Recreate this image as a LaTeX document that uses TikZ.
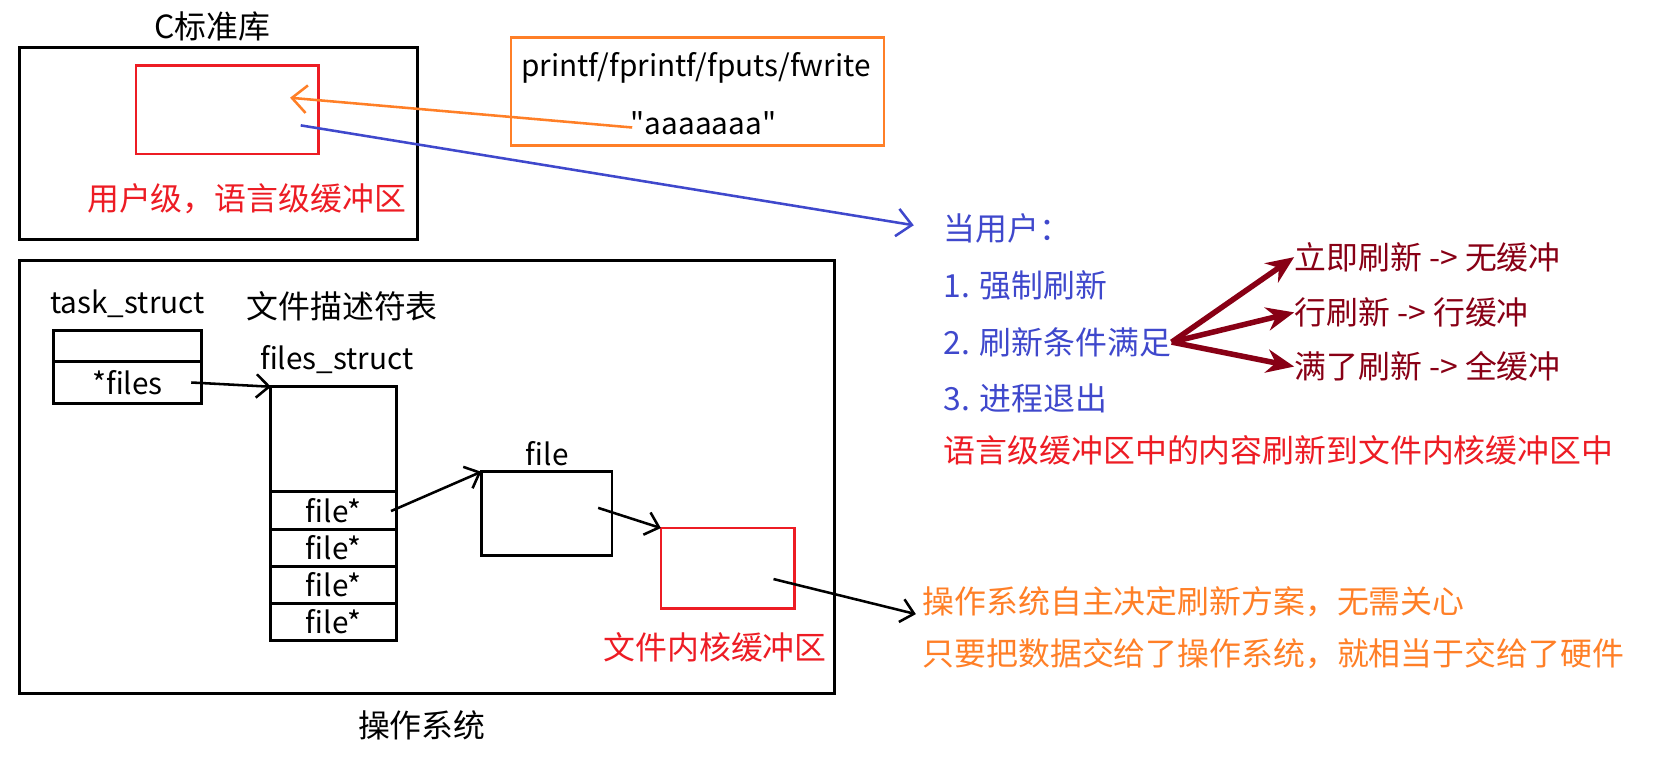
\documentclass[tikz,border=0pt]{standalone}
\usepackage{fontspec}
\setmainfont{Noto Sans CJK SC}[Ligatures=TeXOff]
\usetikzlibrary{positioning, arrows.meta}
\definecolor{pred}{RGB}{237,28,36}
\definecolor{porange}{RGB}{255,127,39}
\definecolor{pblue}{RGB}{63,72,204}
\definecolor{pdark}{RGB}{136,0,21}

\tikzset{
	box/.style={draw, line width=1.4pt, outer sep=0pt, inner sep=0pt},
	redbox/.style={box, pred, line width=1.3pt},
	cell/.style={box, minimum width=59pt, minimum height=17.5pt, font=\latin},
	txt/.style={inner sep=0pt},
	ptr/.style={-{Straight Barb[length=6pt,width=11pt]}, line width=1.2pt},
	flush/.style={-{Stealth[length=13pt,width=11pt]}, line width=2.6pt, pdark}
}
\newcommand{\latin}{\fontsize{14}{17}\selectfont}

\begin{document}
\begin{tikzpicture}[x=0.5pt, y=-0.5pt, font=\fontsize{15}{18}\selectfont]
				\useasboundingbox (0,0) rectangle (1568,715);

				\node[txt] (clibname) at (200,25) {C标准库};
				\node[box, minimum width=187.5pt, minimum height=90pt] (clib) at (205.5,135) {};
				\node[redbox, minimum width=86pt, minimum height=41.5pt] (ubuf) at (214,103.5) {};
				\node[txt, pred] (ubufname) at (232,187) {用户级，语言级缓冲区};

				\node[box, porange, line width=1.3pt, minimum width=175.5pt, minimum height=51pt] (call) at (656.5,86) {};
				\node[txt, font=\latin] (funcs) at (655,64) {printf/fprintf/fputs/fwrite};
				\node[txt, font=\latin] (str) at (662,116) {"aaaaaaa"};

				\node[txt, pblue, anchor=west] (who) at (888,215) {当用户：};
				\node[txt, pblue, anchor=west] (force) at (888,269) {1. 强制刷新};
				\node[txt, pblue, anchor=west] (cond) at (888,322) {2. 刷新条件满足};
				\node[txt, pblue, anchor=west] (quit) at (888,375) {3. 进程退出};
				\node[txt, pred, anchor=west] (move) at (888,424) {语言级缓冲区中的内容刷新到文件内核缓冲区中};
				\node[txt, pdark, anchor=west] (nobuf) at (1218,242) {立即刷新 -> 无缓冲};
				\node[txt, pdark, anchor=west] (linebuf) at (1218,294) {行刷新 -> 行缓冲};
				\node[txt, pdark, anchor=west] (fullbuf) at (1218,345) {满了刷新 -> 全缓冲};

				\node[box, minimum width=383.5pt, minimum height=204pt] (os) at (401.5,449) {};
				\node[txt] (osname) at (397,683) {操作系统};
				\node[txt, font=\latin] (taskname) at (120,286) {task\_struct};
				\node[txt] (fdtname) at (322,288) {文件描述符表};
				\node[box, minimum width=70pt, minimum height=14.5pt] (task0) at (120,325.5) {};
				\node[box, minimum width=70pt, minimum height=20pt, font=\latin, below=0pt of task0] (task1) {*files};

				\node[txt, font=\latin] (fsname) at (317,338) {files\_struct};
				\node[box, minimum width=59pt, minimum height=49.5pt] (fs0) at (314,413.5) {};
				\node[cell, below=0pt of fs0] (fs1) {file*};
				\node[cell, below=0pt of fs1] (fs2) {file*};
				\node[cell, below=0pt of fs2] (fs3) {file*};
				\node[cell, below=0pt of fs3] (fs4) {file*};

				\node[txt, font=\latin] (filename) at (515,427) {file};
				\node[box, minimum width=61.5pt, minimum height=39.5pt] (file) at (514.5,483.5) {};
				\node[redbox, minimum width=63pt, minimum height=38pt] (kbuf) at (685,535) {};
				\node[txt, pred] (kbufname) at (673,609) {文件内核缓冲区};

				\node[txt, porange, anchor=west] (osself) at (868,566) {操作系统自主决定刷新方案，无需关心};
				\node[txt, porange, anchor=west] (oshw) at (868,615) {只要把数据交给了操作系统，就相当于交给了硬件};

				\coordinate (strtail) at (595,120);
				\coordinate (ubufhead) at (273,92);
				\coordinate (ubuftail) at (283,118);
				\coordinate (whohead) at (860,212);
				\coordinate (filestail) at (180,360);
				\coordinate (fs1tail) at (368,481);
				\coordinate (filetail) at (563,478);
				\coordinate (kbuftail) at (728,545);
				\coordinate (oshead) at (862,578);

				\path[ptr, porange, -{Straight Barb[length=7pt,width=13pt]}]
				(strtail) edge (ubufhead);
				\path[ptr, pblue, -{Straight Barb[length=7pt,width=13pt]}]
				(ubuftail) edge (whohead);
				\path[ptr]
				(filestail) edge (fs0.north west)
				(fs1tail) edge (file.north west)
				(filetail) edge (kbuf.north west)
				(kbuftail) edge (oshead);
				\path[flush]
				(cond.east) edge (nobuf.west)
				(cond.east) edge (linebuf.west)
				(cond.east) edge (fullbuf.west);
			\end{tikzpicture}
\end{document}
